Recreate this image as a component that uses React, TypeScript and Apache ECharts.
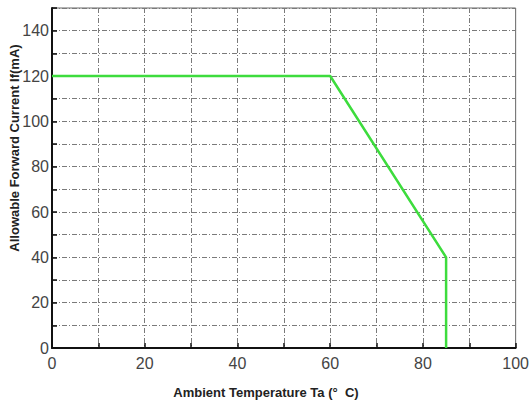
import React, { useEffect, useRef } from "react";
import * as echarts from "echarts";

const temperatures = [0, 60, 85, 85];
const currents = [120, 120, 40, 0];
const xTitle = "Ambient Temperature Ta (°  C)";
const yTitle = "Allowable Forward Current If(mA)";

export default function App() {
  const ref = useRef<HTMLDivElement>(null);
  useEffect(() => {
    const chart = echarts.init(ref.current!, null, { renderer: "svg" });
    const gridLine = { show: true, lineStyle: { color: "#7a7a7a", width: 1, type: [5, 2, 1, 2] as any } };
    chart.setOption({
      animation: false,
      backgroundColor: "#fff",
      grid: { left: 52, right: 14, top: 8, bottom: 57, show: true, borderColor: "#666", borderWidth: 1, containLabel: false },
      xAxis: {
        type: "value", min: 0, max: 100, interval: 10,
        axisLine: { lineStyle: { color: "#111", width: 2 } },
        axisTick: { inside: true, length: 5, lineStyle: { color: "#111", width: 1.5 } },
        axisLabel: {
          fontFamily: "Liberation Sans, Arial", fontSize: 16, color: "#444", margin: 7,
          formatter: (v: number) => (v % 20 === 0 ? String(v) : ""),
        },
        splitLine: gridLine,
      },
      yAxis: {
        type: "value", min: 0, max: 150, interval: 10,
        axisLine: { show: true, lineStyle: { color: "#111", width: 2 } },
        axisTick: { show: true, inside: true, length: 5, lineStyle: { color: "#111", width: 1.5 } },
        axisLabel: {
          fontFamily: "Liberation Sans, Arial", fontSize: 16, color: "#444", margin: 3,
          formatter: (v: number) => (v % 20 === 0 ? String(v) : ""),
        },
        splitLine: gridLine,
      },
      graphic: [
        {
          type: "text", x: 266, y: 392,
          style: { text: xTitle, font: "bold 13px 'Liberation Sans', Arial", fill: "#222", align: "center", verticalAlign: "middle" },
        },
        {
          type: "text", x: 14, y: 148, rotation: Math.PI / 2,
          style: { text: yTitle, font: "bold 13px 'Liberation Sans', Arial", fill: "#222", align: "center", verticalAlign: "middle" },
        },
      ],
      series: [
        {
          type: "line",
          data: temperatures.map((t, i) => [t, currents[i]]),
          showSymbol: false,
          lineStyle: { color: "#3ddc3d", width: 2.5 },
        },
      ],
    });
    return () => chart.dispose();
  }, []);
  return <div ref={ref} style={{ width: 532, height: 405, position: "absolute", left: 0, top: 0 }} />;
}
